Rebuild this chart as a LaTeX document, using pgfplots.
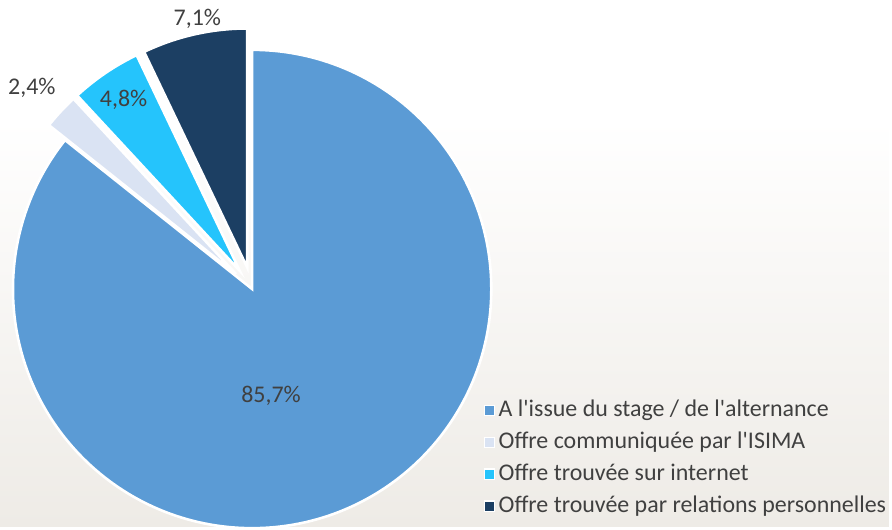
\documentclass[border=0pt]{standalone}
\usepackage{pgfplots}
\pgfplotsset{compat=1.18}
\usepackage{pgfplotstable}
\usepackage{fontspec}
\setmainfont{Carlito}
\definecolor{cMain}{HTML}{5B9BD5}
\definecolor{cLav}{HTML}{DAE3F3}
\definecolor{cCyan}{HTML}{25C4FC}
\definecolor{cNavy}{HTML}{1C3F63}
\definecolor{txt}{HTML}{404040}
\definecolor{bg}{HTML}{EEEBE6}

% value, explode (px), label centre (px, image coords), colour
\pgfplotstableread{
value explode lx ly color
85.7 0 272 397 cMain
2.4 22 32 88 cLav
4.8 22 124 100 cCyan
7.1 22 198 19 cNavy
}\piedata

\begin{document}
\begin{tikzpicture}
\begin{axis}[
    scale only axis,
    width=446pt, height=264pt,
    xmin=0, xmax=892, ymin=0, ymax=528,
    y dir=reverse,
    hide axis,
    clip=false,
    legend cell align=left,
    legend style={
        at={(axis cs:479,396)}, anchor=north west,
        draw=none, fill=none,
        font=\fontsize{12}{14}\selectfont,
        text=txt,
        row sep=4.4pt,
        nodes={inner sep=0pt, text height=8.8pt, text depth=2.8pt},
        /tikz/every odd column/.append style={column sep=1.6pt},
    },
    legend image code/.code={
        \draw[#1, line width=0.7pt] (0pt,-2.6pt) rectangle (5.2pt,2.6pt);
    },
]
% background
\fill[white] (axis cs:0,0) rectangle (axis cs:892,528);
\shade[top color=white, bottom color=bg] (axis cs:0,120) rectangle (axis cs:892,528);

\def\cum{0}
\pgfplotsforeachungrouped \i in {0,...,3}{
    \pgfplotstablegetelem{\i}{value}\of\piedata \edef\val{\pgfplotsretval}
    \pgfplotstablegetelem{\i}{explode}\of\piedata \edef\ex{\pgfplotsretval}
    \pgfplotstablegetelem{\i}{color}\of\piedata \edef\col{\pgfplotsretval}
    \pgfmathsetmacro\aone{90-3.6*\cum}
    \pgfmathsetmacro\cum{\cum+\val}
    \xdef\cum{\cum}
    \pgfmathsetmacro\atwo{90-3.6*\cum}
    \pgfmathsetmacro\amid{(\aone+\atwo)/2}
    \pgfmathsetmacro\exd{0.5*\ex}
    \edef\temp{\noexpand\fill[fill=\col, draw=white, line width=1.3pt]
        ([shift={(\amid:\exd pt)}]axis cs:253,290) -- ++(\aone:120pt)
        arc[start angle=\aone, end angle=\atwo, radius=120pt] -- cycle;}
    \temp
}
\pgfplotsforeachungrouped \i in {0,...,3}{
    \pgfplotstablegetelem{\i}{value}\of\piedata \edef\val{\pgfplotsretval}
    \pgfplotstablegetelem{\i}{lx}\of\piedata \edef\lx{\pgfplotsretval}
    \pgfplotstablegetelem{\i}{ly}\of\piedata \edef\ly{\pgfplotsretval}
    \edef\temp{\noexpand\node[text=txt, font=\noexpand\fontsize{12}{14}\noexpand\selectfont]
        at (axis cs:\lx,\ly) {\noexpand\pgfmathprintnumber[assume math mode=true, fixed, precision=1, fixed zerofill, use comma]{\val}\noexpand\%};}
    \temp
}

\addlegendimage{fill=cMain, draw=white}
\addlegendentry{A l\textquotesingle issue du stage / de l\textquotesingle alternance}
\addlegendimage{fill=cLav, draw=white}
\addlegendentry{Offre communiquée par l\textquotesingle ISIMA}
\addlegendimage{fill=cCyan, draw=white}
\addlegendentry{Offre trouvée sur internet}
\addlegendimage{fill=cNavy, draw=white}
\addlegendentry{Offre trouvée par relations personnelles}
\end{axis}
\end{tikzpicture}
\end{document}
